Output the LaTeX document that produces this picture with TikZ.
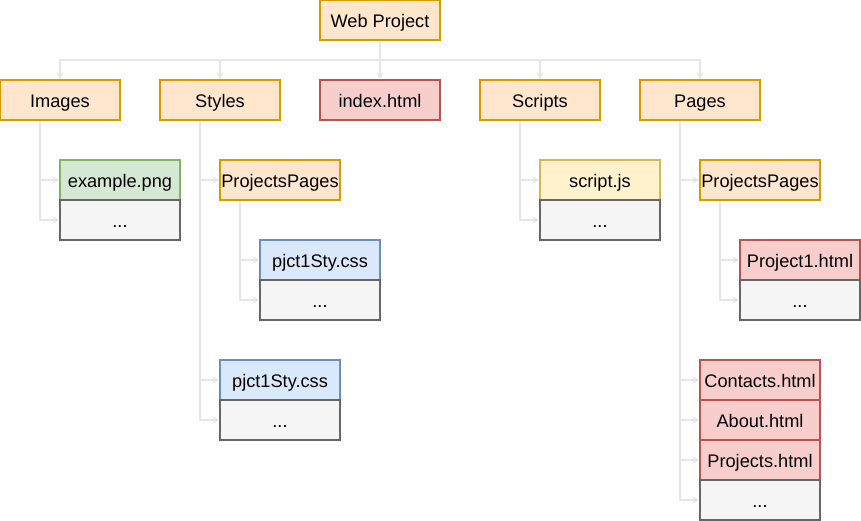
\documentclass[tikz,border=0pt]{standalone}
\usepackage{fontspec}
\setmainfont{Liberation Sans}
\usetikzlibrary{arrows.meta}

\definecolor{folderfill}{HTML}{FFE6CC}
\definecolor{folderline}{HTML}{D79B00}
\definecolor{pagefill}{HTML}{F8CECC}
\definecolor{pageline}{HTML}{B85450}
\definecolor{imagefill}{HTML}{D5E8D4}
\definecolor{imageline}{HTML}{82B366}
\definecolor{sheetfill}{HTML}{DAE8FC}
\definecolor{sheetline}{HTML}{6C8EBF}
\definecolor{scriptfill}{HTML}{FFF2CC}
\definecolor{scriptline}{HTML}{D6B656}
\definecolor{morefill}{HTML}{F5F5F5}
\definecolor{moreline}{HTML}{666666}
\definecolor{linkgray}{HTML}{E6E6E6}

\begin{document}
\begin{tikzpicture}[x=1pt,y=-1pt,
  box/.style={draw, line width=1.1pt, minimum width=120pt, minimum height=40pt,
    inner sep=0pt, text height=15pt, text depth=0pt, font=\fontsize{18.2}{20}\selectfont},
  folder/.style={box, fill=folderfill, draw=folderline},
  page/.style={box, fill=pagefill, draw=pageline},
  image/.style={box, fill=imagefill, draw=imageline},
  sheet/.style={box, fill=sheetfill, draw=sheetline},
  script/.style={box, fill=scriptfill, draw=scriptline},
  more/.style={box, fill=morefill, draw=moreline},
  link/.style={draw=linkgray, line width=1.2pt},
  tip/.style={link, -{Stealth[length=7pt,width=7pt,inset=2pt]}}]
\useasboundingbox (0,0) rectangle (861,521);

\coordinate (bus) at (380,60);

% top level
\node[folder] (web) at (380,20) {Web Project};
\node[folder] (images) at (60,100) {Images};
\node[folder] (styles) at (220,100) {Styles};
\node[page] (index) at (380,100) {index.html};
\node[folder] (scripts) at (540,100) {Scripts};
\node[folder] (pages) at (700,100) {Pages};

% Images
\node[image] (imgex) at (120,180) {example.png};
\node[more] (imgmore) at (120,220) {...};

% Styles
\node[folder] (stylepp) at (280,180) {ProjectsPages};
\node[sheet] (ppcss) at (320,260) {pjct1Sty.css};
\node[more] (ppcssmore) at (320,300) {...};
\node[sheet] (stylecss) at (280,380) {pjct1Sty.css};
\node[more] (stylemore) at (280,420) {...};

% Scripts
\node[script] (scriptjs) at (600,180) {script.js};
\node[more] (scriptmore) at (600,220) {...};

% Pages
\node[folder] (pagepp) at (760,180) {ProjectsPages};
\node[page] (proj1) at (800,260) {Project1.html};
\node[more] (proj1more) at (800,300) {...};
\node[page] (contacts) at (760,380) {Contacts.html};
\node[page] (about) at (760,420) {About.html};
\node[page] (projects) at (760,460) {Projects.html};
\node[more] (pagemore) at (760,500) {...};

% connectors
\draw[link] (web) -- (bus);
\draw[tip] (bus) -| (images);
\draw[tip] (bus) -| (styles);
\draw[tip] (bus) -- (index);
\draw[tip] (bus) -| (scripts);
\draw[tip] (bus) -| (pages);

\draw[tip] ([xshift=-20pt]images.south) |- (imgex);
\draw[tip] ([xshift=-20pt]images.south) |- (imgmore);

\draw[tip] ([xshift=-20pt]styles.south) |- (stylepp);
\draw[tip] ([xshift=-20pt]styles.south) |- (stylecss);
\draw[tip] ([xshift=-20pt]styles.south) |- (stylemore);
\draw[tip] ([xshift=-40pt]stylepp.south) |- (ppcss);
\draw[tip] ([xshift=-40pt]stylepp.south) |- (ppcssmore);

\draw[tip] ([xshift=-20pt]scripts.south) |- (scriptjs);
\draw[tip] ([xshift=-20pt]scripts.south) |- (scriptmore);

\draw[tip] ([xshift=-20pt]pages.south) |- (pagepp);
\draw[tip] ([xshift=-20pt]pages.south) |- (contacts);
\draw[tip] ([xshift=-20pt]pages.south) |- (about);
\draw[tip] ([xshift=-20pt]pages.south) |- (projects);
\draw[tip] ([xshift=-20pt]pages.south) |- (pagemore);
\draw[tip] ([xshift=-40pt]pagepp.south) |- (proj1);
\draw[tip] ([xshift=-40pt]pagepp.south) |- (proj1more);
\end{tikzpicture}
\end{document}
